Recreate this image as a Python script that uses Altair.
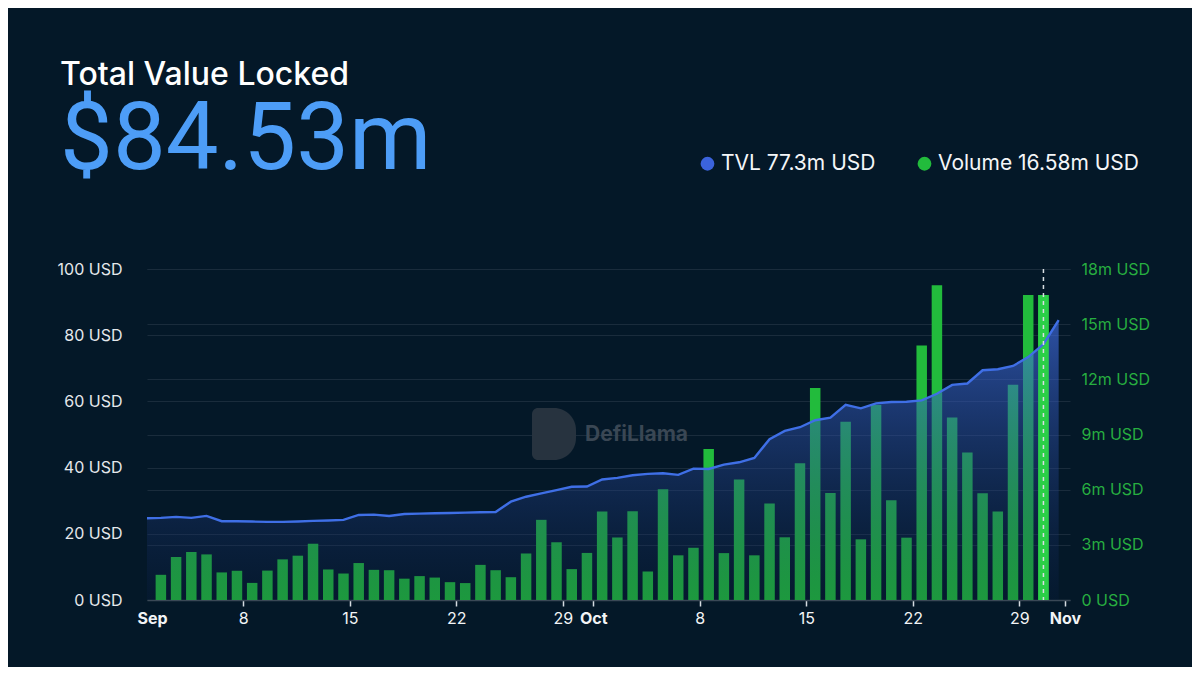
import altair as alt
import pandas as pd

# ---------------- data ----------------
# TVL (left axis, "USD"), one point per day Sep 1 .. Oct 31
tvl_dates = [d.strftime("%Y-%m-%dT%H:%M:%SZ")
             for d in pd.date_range("2024-09-01 14:00", "2024-10-31 14:00", freq="D")]
tvl_values = [24.7, 24.8, 25.1, 24.8, 25.4, 23.8, 23.8, 23.7, 23.6, 23.6,
              23.7, 23.9, 24.0, 24.2, 25.7, 25.8, 25.4, 26.0, 26.1, 26.2,
              26.3, 26.4, 26.5, 26.6, 29.7, 31.2, 32.2, 33.2, 34.2, 34.3,
              36.4, 36.9, 37.7, 38.1, 38.3, 37.8, 39.7, 39.6, 40.9, 41.6,
              42.9, 48.6, 51.1, 52.2, 54.3, 55.1, 59.0, 57.9, 59.4, 59.8,
              59.9, 60.3, 62.3, 65.0, 65.4, 69.4, 69.7, 70.7, 73.4, 77.3,
              84.53]

# Daily volume (right axis, millions USD), Sep 2 .. Oct 30
bar_dates = [d.strftime("%Y-%m-%dT%H:%M:%SZ")
             for d in pd.date_range("2024-09-02 14:00", "2024-10-30 14:00", freq="D")]
volume_m = [1.37, 2.34, 2.61, 2.48, 1.50, 1.59, 0.93, 1.60, 2.21, 2.41,
            3.06, 1.66, 1.44, 2.01, 1.64, 1.62, 1.16, 1.30, 1.22, 0.97,
            0.92, 1.91, 1.62, 1.24, 2.53, 4.36, 3.14, 1.68, 2.56, 4.81,
            3.40, 4.83, 1.55, 6.02, 2.43, 2.84, 8.21, 2.55, 6.55, 2.43,
            5.25, 3.41, 7.44, 11.53, 5.82, 9.70, 3.30, 10.61, 5.42, 3.39,
            13.84, 17.11, 9.92, 8.02, 5.80, 4.81, 11.71, 16.58, 16.58]

legend_names = ["TVL 77.3m USD", "Volume 16.58m USD"]
legend_colors = ["#3b63dc", "#22bb3c"]

tick_dates = ["2024-09-02", "2024-09-08", "2024-09-15", "2024-09-22", "2024-09-29",
              "2024-10-01", "2024-10-08", "2024-10-15", "2024-10-22", "2024-10-29",
              "2024-11-01"]
tick_labels = ["Sep", "8", "15", "22", "29", "Oct", "8", "15", "22", "29", "Nov"]

left_ticks = [0, 20, 40, 60, 80, 100]
right_ticks = [0, 3, 6, 9, 12, 15, 18]

title_text = "Total Value Locked"
headline = "$84.53m"

# ---------------- frames ----------------
tvl_df = pd.DataFrame({"date": tvl_dates, "tvl": tvl_values})
bars_df = pd.DataFrame({"date": bar_dates, "volume": volume_m,
                        "series": legend_names[1]})
hover_df = bars_df.iloc[[-1]]


def dt(s):
    y, m, d = (int(p) for p in s.split("-"))
    return alt.DateTime(year=y, month=m, date=d, utc=True)


x_scale = alt.Scale(type="utc", domain=[dt("2024-09-02"), dt("2024-11-01")])

label_expr = ("[" + ",".join(f"'{l}'" for l in tick_labels) + "][indexof(["
              + ",".join(f"'{d}'" for d in tick_dates)
              + "], utcFormat(datum.value, '%Y-%m-%d'))]")

x_axis = alt.Axis(
    values=[dt(d) for d in tick_dates],
    labelExpr=label_expr,
    title=None, grid=False,
    domainColor="#3a4856", domainWidth=1.5,
    tickColor={"condition": {"test": "utcdate(datum.value) == 2", "value": "transparent"},
               "value": "#d5dbe0"},
    tickSize=6, tickWidth=1.5,
    labelColor="#f2f4f6", labelFontSize=16, labelFont="Inter",
    labelFontWeight={"condition": {"test": "utcdate(datum.value) <= 2", "value": "bold"},
                     "value": "normal"},
    labelPadding=4, labelFlush=False, labelOverlap=False,
)

X = alt.X("date:T", scale=x_scale, axis=x_axis, title=None)

left_axis = alt.Axis(orient="left", values=left_ticks, labelExpr="datum.value + ' USD'",
                     title=None, ticks=False, domain=False, grid=True,
                     gridColor="#1a2c3c", gridWidth=1, labelPadding=25,
                     labelColor="#e4e8ec", labelFontSize=16, labelFont="Inter")
right_axis = alt.Axis(orient="right", values=right_ticks,
                      labelExpr="datum.value == 0 ? '0 USD' : datum.value + 'm USD'",
                      title=None, ticks=False, domain=False, grid=True,
                      gridColor="#1a2c3c", gridWidth=1, labelPadding=11,
                      labelColor="#27ae40", labelFontSize=16, labelFont="Inter")

tvl_scale = alt.Scale(domain=[0, 100], nice=False)
vol_scale = alt.Scale(domain=[0, 18], nice=False)

# watermark
wm = alt.Data(values=[{"k": 0}])
logo = alt.Chart(wm).mark_rect(
    color="#27333f", cornerRadiusTopRight=24, cornerRadiusBottomRight=24,
    cornerRadiusTopLeft=6, cornerRadiusBottomLeft=6
).encode(x=alt.value(385), x2=alt.value(429), y=alt.value(139), y2=alt.value(191))
wm_text = alt.Chart(wm).mark_text(
    text="DefiLlama", font="Inter", fontWeight="bold", fontSize=21,
    color="#3a4754", align="left", baseline="middle"
).encode(x=alt.value(438), y=alt.value(166))

bars = alt.Chart(bars_df).mark_bar(size=10.5).encode(
    x=X,
    y=alt.Y("volume:Q", scale=vol_scale, axis=right_axis),
    color=alt.Color("series:N",
                    scale=alt.Scale(domain=legend_names, range=legend_colors),
                    legend=alt.Legend(orient="none", legendX=550, legendY=-116,
                                      direction="horizontal", title=None,
                                      symbolType="circle", symbolSize=190,
                                      symbolStrokeWidth=0, labelLimit=0,
                                      labelFontSize=21, labelColor="#f4f6f8",
                                      labelFont="Inter", columnPadding=38,
                                      labelOffset=3, padding=0)),
)

area = alt.Chart(tvl_df).mark_area(
    clip=True,
    color=alt.Gradient(
        gradient="linear",
        stops=[alt.GradientStop(color="rgba(10,30,70,0.22)", offset=0),
               alt.GradientStop(color="rgba(70,115,240,0.62)", offset=1)],
        x1=1, x2=1, y1=1, y2=0),
).encode(x=X, y=alt.Y("tvl:Q", scale=tvl_scale, axis=left_axis))

hover_bar = alt.Chart(hover_df).mark_bar(size=10.5, color="#2bcf47").encode(
    x=X, y=alt.Y("volume:Q", scale=vol_scale, axis=None))

line = alt.Chart(tvl_df).mark_line(clip=True, color="#3f6fe6", strokeWidth=2.4).encode(
    x=X, y=alt.Y("tvl:Q", scale=tvl_scale, axis=None))

rule = alt.Chart(hover_df).mark_rule(color="#d9dee3", strokeDash=[4, 4],
                                     strokeWidth=1.5).encode(x=X)

chart = alt.layer(logo, wm_text, bars, area, hover_bar, line, rule).resolve_scale(
    y="independent"
).properties(
    width=1184, height=659,
    autosize=alt.AutoSizeParams(type="fit", contains="padding"),
    padding={"left": 49, "right": 42, "top": 51, "bottom": 41},
    background="#041828",
    title=alt.TitleParams(
        text=title_text, subtitle=headline, anchor="start", frame="bounds",
        dx=3, offset=72, font="Inter", fontSize=32, fontWeight=500,
        color="#ffffff", subtitleFont="Roboto", subtitleFontSize=94,
        subtitleColor="#4d9df7", subtitlePadding=3),
).configure_view(strokeWidth=0)

chart.save("out.html", embed_options={"renderer": "svg", "actions": False})
